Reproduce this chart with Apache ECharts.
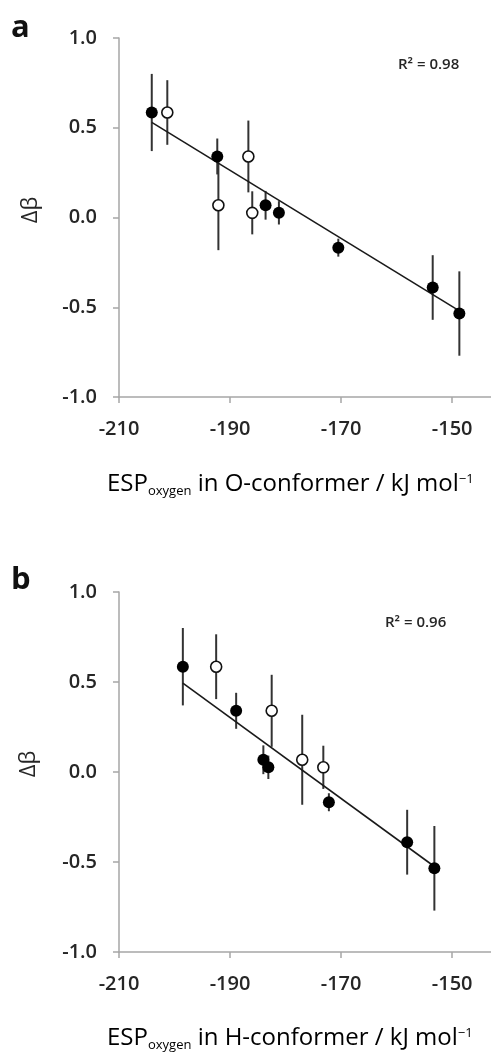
<!DOCTYPE html>
<html>
<head>
<meta charset="utf-8">
<script src="https://cdn.jsdelivr.net/npm/echarts@6/dist/echarts.min.js"></script>
<style>
  html, body { margin: 0; padding: 0; background: #fff; }
  #chart { width: 491px; height: 1054px; }
</style>
</head>
<body>
<div id="chart"></div>
<script>
// Filled circles: ESP (kJ/mol) in O- and H-conformer, Δβ and its error
const filledEspO = [-204.1, -192.3, -183.6, -181.2, -170.5, -153.5, -148.7];
const filledEspH = [-198.5, -188.9, -184.0, -183.1, -172.2, -158.1, -153.2];
const filledDb   = [0.585, 0.34, 0.068, 0.026, -0.168, -0.39, -0.535];
const filledErr  = [0.215, 0.10, 0.08, 0.065, 0.05, 0.18, 0.235];

// Open circles
const openEspO = [-201.3, -186.7, -192.1, -186.0];
const openEspH = [-192.5, -182.5, -177.0, -173.2];
const openDb   = [0.585, 0.34, 0.068, 0.026];
const openErr  = [0.18, 0.20, 0.25, 0.12];

// Fitted lines (end points)
const trendOx = [-204.1, -148.7];
const trendOy = [0.53, -0.52];
const trendHx = [-198.5, -153.2];
const trendHy = [0.494, -0.525];

const rSquared = ['0.98', '0.96'];
const xTicks = [-210, -190, -170, -150];

const FONT = '"Open Sans"';
const INK = '#262626';
const AXIS = '#a6a6a6';

function zip(xs, ys, es) {
  return xs.map((x, i) => es ? [x, ys[i], es[i]] : [x, ys[i]]);
}

function errorBars(xi, yi, data) {
  return {
    type: 'custom', xAxisIndex: xi, yAxisIndex: yi, z: 2,
    data: data,
    encode: { x: 0, y: 1 },
    renderItem: function (params, api) {
      const x = api.value(0), y = api.value(1), e = api.value(2);
      const p1 = api.coord([x, y + e]);
      const p2 = api.coord([x, y - e]);
      return {
        type: 'line',
        shape: { x1: p1[0], y1: p1[1], x2: p2[0], y2: p2[1] },
        style: { stroke: '#333', lineWidth: 2 }
      };
    }
  };
}

function panelSeries(i, fx, ox, tx, ty) {
  return [
    errorBars(i, i, zip(fx, filledDb, filledErr)),
    errorBars(i, i, zip(ox, openDb, openErr)),
    {
      type: 'line', xAxisIndex: i, yAxisIndex: i, z: 3,
      data: zip(tx, ty), symbol: 'none', silent: true,
      lineStyle: { color: '#1a1a1a', width: 1.6 }
    },
    {
      type: 'scatter', xAxisIndex: i, yAxisIndex: i, z: 4,
      data: zip(fx, filledDb), symbol: 'circle', symbolSize: 12,
      itemStyle: { color: '#000', opacity: 1 }
    },
    {
      type: 'scatter', xAxisIndex: i, yAxisIndex: i, z: 4,
      data: zip(ox, openDb), symbol: 'circle', symbolSize: 11,
      itemStyle: { color: '#fff', borderColor: '#111', borderWidth: 1.6, opacity: 1 }
    }
  ];
}

function xAxisFor(i) {
  return {
    type: 'value', gridIndex: i, min: -210, max: -143,
    axisLine: { show: true, onZero: false, lineStyle: { color: AXIS, width: 1.5 } },
    axisTick: { show: true, length: 6, customValues: xTicks, lineStyle: { color: AXIS, width: 1.5 } },
    axisLabel: { customValues: xTicks, margin: 22, color: INK, fontFamily: FONT, fontSize: 20, fontWeight: 600 },
    splitLine: { show: false }
  };
}

function yAxisFor(i) {
  return {
    type: 'value', gridIndex: i, min: -1, max: 1, interval: 0.5,
    axisLine: { show: true, onZero: false, lineStyle: { color: AXIS, width: 1.5 } },
    axisTick: { show: true, length: 6, lineStyle: { color: AXIS, width: 1.5 } },
    axisLabel: {
      margin: 22, color: INK, fontFamily: FONT, fontSize: 20, fontWeight: 600,
      formatter: v => v.toFixed(1)
    },
    splitLine: { show: false }
  };
}

const titleRich = {
  m: { fontFamily: FONT, fontSize: 24, color: INK, lineHeight: 28 },
  sub: { fontFamily: FONT, fontSize: 13, color: INK, lineHeight: 28, padding: [14, 0, 0, 0] },
  sup: { fontFamily: FONT, fontSize: 13, color: INK, lineHeight: 28, padding: [0, 0, 11, 0] }
};

function axisTitle(y, conf) {
  return {
    type: 'text', left: 107, top: y,
    style: {
      text: '{m|ESP}{sub|oxygen}{m| in ' + conf + '-conformer / kJ mol}{sup|−1}',
      rich: titleRich
    }
  };
}

function panelLetter(t, y) {
  return { type: 'text', x: 11, y: y,
    style: { text: t, fontFamily: FONT, fontWeight: 'bold', fontSize: 31, fill: '#111', verticalAlign: 'middle' } };
}

const chart = echarts.init(document.getElementById('chart'), null, { renderer: 'canvas' });
chart.setOption({
  backgroundColor: '#fff',
  animation: false,
  grid: [
    { left: 119, top: 38, right: 0, height: 359 },
    { left: 119, top: 592, right: 0, height: 360 }
  ],
  xAxis: [xAxisFor(0), xAxisFor(1)],
  yAxis: [yAxisFor(0), yAxisFor(1)],
  series: [].concat(
    panelSeries(0, filledEspO, openEspO, trendOx, trendOy),
    panelSeries(1, filledEspH, openEspH, trendHx, trendHy)
  ),
  graphic: [
    panelLetter('a', 28),
    panelLetter('b', 580),
    { type: 'text', x: 31, y: 210, rotation: Math.PI / 2,
      style: { text: 'Δβ', fontFamily: FONT, fontSize: 22, fill: INK, align: 'center', verticalAlign: 'middle' } },
    { type: 'text', x: 29, y: 764, rotation: Math.PI / 2,
      style: { text: 'Δβ', fontFamily: FONT, fontSize: 22, fill: INK, align: 'center', verticalAlign: 'middle' } },
    { type: 'text', x: 398, y: 65,
      style: { text: 'R² = ' + rSquared[0], fontFamily: FONT, fontSize: 15, fontWeight: 600, fill: INK, verticalAlign: 'middle' } },
    { type: 'text', x: 385, y: 623,
      style: { text: 'R² = ' + rSquared[1], fontFamily: FONT, fontSize: 15, fontWeight: 600, fill: INK, verticalAlign: 'middle' } },
    axisTitle(471, 'O'),
    axisTitle(1025, 'H')
  ]
});
</script>
</body>
</html>
